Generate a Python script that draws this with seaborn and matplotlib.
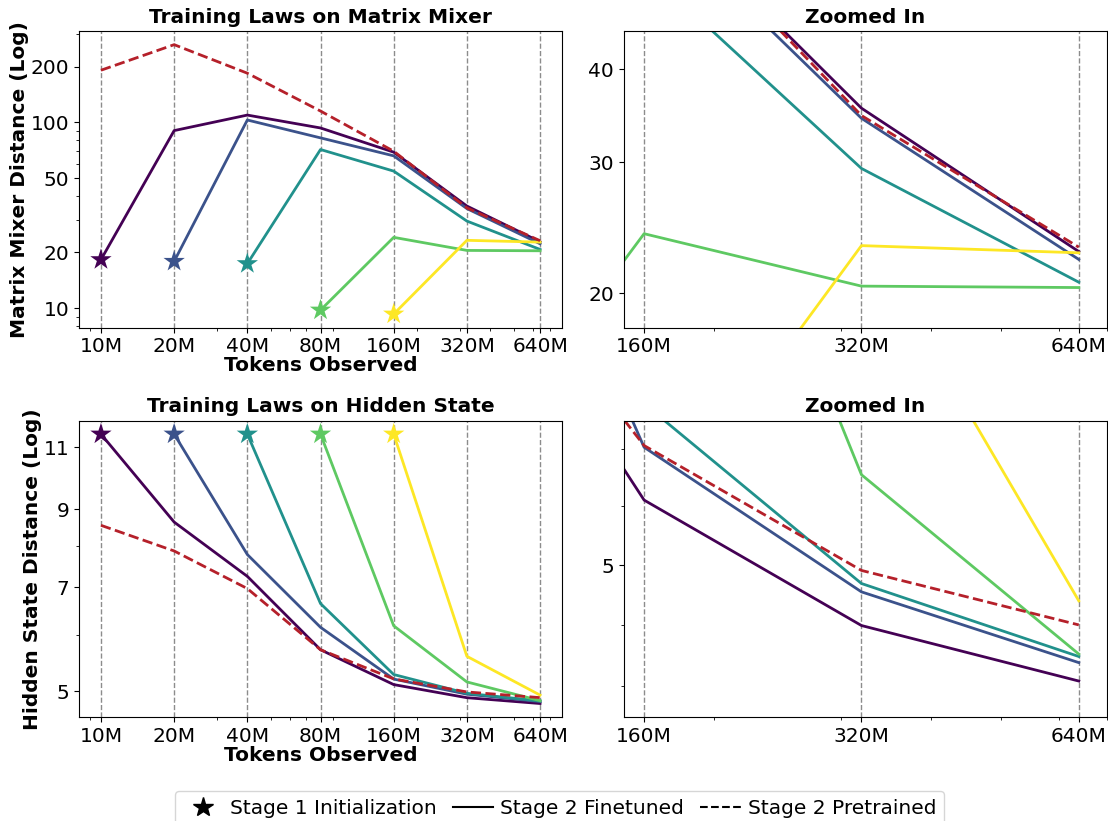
import numpy as np
import pandas as pd
import matplotlib
matplotlib.use("Agg")
import matplotlib.pyplot as plt
from matplotlib.lines import Line2D
from matplotlib.ticker import NullFormatter
import seaborn as sns

# ---------------- data ----------------
tokens = [10, 20, 40, 80, 160, 320, 640]          # millions of tokens
token_labels = ["10M", "20M", "40M", "80M", "160M", "320M", "640M"]
start_labels = ["10M", "20M", "40M", "80M", "160M"]

# Matrix mixer distance (Stage 2 finetuned, starting at each Stage 1 init point)
mm_10M = [18.24, 90.4, 109.6, 93.4, 69.2, 35.47, 22.77]
mm_20M = [17.86, 103.1, 82.6, 66.1, 34.38, 22.22]
mm_40M = [17.36, 71.5, 54.7, 29.44, 20.71]
mm_80M = [9.76, 24.06, 20.46, 20.37]
mm_160M = [9.29, 23.19, 22.68]
mm_pretrained = [191.1, 262.4, 184.2, 115.2, 70.0, 34.67, 23.08]

# Hidden state distance
hs_10M = [11.48, 8.64, 7.25, 5.72, 5.111, 4.899, 4.808]
hs_20M = [11.48, 7.78, 6.15, 5.203, 4.955, 4.838]
hs_40M = [11.48, 6.64, 5.28, 4.969, 4.848]
hs_80M = [11.48, 6.18, 5.155, 4.852]
hs_160M = [11.48, 5.6, 4.94]
hs_pretrained = [8.55, 7.87, 6.97, 5.72, 5.206, 4.991, 4.90]

mm_yticks = [10, 20, 50, 100, 200]
mm_zoom_yticks = [20, 30, 40]
hs_yticks = [5, 7, 9, 11]


def to_long(series_list):
    rows = []
    for label, vals in zip(start_labels, series_list):
        xs = tokens[len(tokens) - len(vals):]
        for x, v in zip(xs, vals):
            rows.append({"start": label, "tokens": x, "value": v})
    return pd.DataFrame(rows)


mm_df = to_long([mm_10M, mm_20M, mm_40M, mm_80M, mm_160M])
hs_df = to_long([hs_10M, hs_20M, hs_40M, hs_80M, hs_160M])
mm_pre_df = pd.DataFrame({"tokens": tokens, "value": mm_pretrained})
hs_pre_df = pd.DataFrame({"tokens": tokens, "value": hs_pretrained})

colors = [matplotlib.colormaps["viridis"](t) for t in np.linspace(0, 1, 5)]
palette = dict(zip(start_labels, colors))
red = "#b5202a"

FS = 14.5

fig, axes = plt.subplots(2, 2, figsize=(11.08, 8.21), dpi=100)
fig.subplots_adjust(left=0.0713, right=0.999, top=0.962, bottom=0.1267,
                    wspace=0.128, hspace=0.314)


def draw(ax, df, pre_df):
    sns.lineplot(data=df, x="tokens", y="value", hue="start", palette=palette,
                 hue_order=start_labels, linewidth=2, ax=ax, legend=False,
                 estimator=None, sort=True)
    sns.lineplot(data=pre_df, x="tokens", y="value", color=red, linewidth=2,
                 linestyle="--", ax=ax, legend=False, estimator=None)
    starts = df.groupby("start", sort=False).first().reset_index()
    sns.scatterplot(data=starts, x="tokens", y="value", hue="start",
                    palette=palette, hue_order=start_labels, marker="*",
                    s=260, linewidth=0, ax=ax, legend=False, zorder=5)
    ax.set_xscale("log")
    ax.set_yscale("log")
    ax.set_xticks(tokens)
    ax.set_xticklabels(token_labels)
    ax.xaxis.set_minor_formatter(NullFormatter())
    ax.yaxis.set_minor_formatter(NullFormatter())
    ax.tick_params(axis="both", which="major", labelsize=FS)
    ax.grid(axis="x", which="major", linestyle="--", color="grey",
            linewidth=1, alpha=0.9)
    ax.set_axisbelow(True)
    ax.set_xlabel("")
    ax.set_ylabel("")


# top-left
ax = axes[0, 0]
draw(ax, mm_df, mm_pre_df)
ax.set_yticks(mm_yticks)
ax.set_yticklabels([str(v) for v in mm_yticks])
ax.set_title("Training Laws on Matrix Mixer", fontsize=FS, fontweight="bold")
ax.set_ylabel("Matrix Mixer Distance (Log)", fontsize=FS, fontweight="bold",
              labelpad=1)
ax.set_xlabel("Tokens Observed", fontsize=FS, fontweight="bold", labelpad=0)

# top-right
ax = axes[0, 1]
draw(ax, mm_df, mm_pre_df)
ax.set_xlim(150, 700)
ax.set_ylim(18, 45)
ax.set_yticks(mm_zoom_yticks)
ax.set_yticklabels([str(v) for v in mm_zoom_yticks])
ax.set_title("Zoomed In", fontsize=FS, fontweight="bold")

# bottom-left
ax = axes[1, 0]
draw(ax, hs_df, hs_pre_df)
ax.set_yticks(hs_yticks)
ax.set_yticklabels([str(v) for v in hs_yticks])
ax.set_title("Training Laws on Hidden State", fontsize=FS, fontweight="bold")
ax.set_ylabel("Hidden State Distance (Log)", fontsize=FS, fontweight="bold",
              labelpad=1)
ax.set_xlabel("Tokens Observed", fontsize=FS, fontweight="bold", labelpad=0)

# bottom-right
ax = axes[1, 1]
draw(ax, hs_df, hs_pre_df)
ax.set_xlim(150, 700)
ax.set_ylim(4.75, 5.25)
ax.set_yticks(hs_yticks)
ax.set_yticklabels([str(v) for v in hs_yticks])
ax.set_ylim(4.75, 5.25)
ax.set_title("Zoomed In", fontsize=FS, fontweight="bold")

handles = [
    Line2D([], [], color="black", marker="*", linestyle="none", markersize=15),
    Line2D([], [], color="black", linewidth=1.5),
    Line2D([], [], color="black", linewidth=1.5, linestyle="--"),
]
labels = ["Stage 1 Initialization", "Stage 2 Finetuned", "Stage 2 Pretrained"]
fig.legend(handles, labels, loc="lower center", bbox_to_anchor=(0.505, -0.018),
           ncol=3, fontsize=FS, handletextpad=0.35, columnspacing=0.8,
           handlelength=2.0, frameon=True)

fig.savefig("out.png", dpi=100)
